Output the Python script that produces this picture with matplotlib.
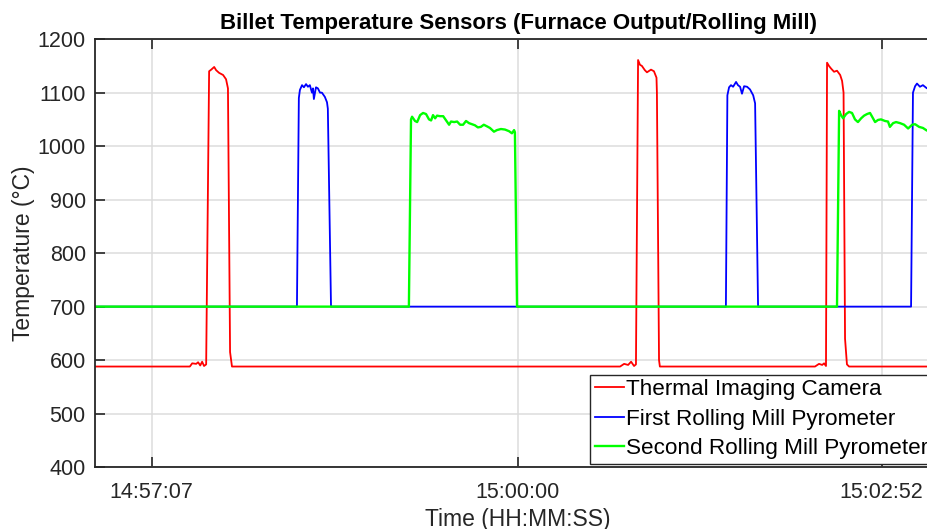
import matplotlib
matplotlib.use('Agg')
import matplotlib.pyplot as plt
from matplotlib.ticker import FuncFormatter

# time in seconds relative to 15:00:00, temperature in degC
red_t = [-199.5, -154.9, -153.8, -151.9, -151.0, -150.0, -149.1, -148.2, -147.2, -145.8, -144.8,
         -143.4, -142.5, -141.1, -139.2, -137.8, -136.9, -135.9, -135.0,
         48.4, 50.3, 52.2, 53.6, 55.0, 55.9, 56.9, 57.8, 58.7, 60.1, 61.1, 63.0, 64.4, 65.6,
         65.8, 66.8, 67.2,
         140.5, 142.4, 143.9, 144.8, 145.7, 146.2, 147.1, 148.1, 149.5, 150.9, 152.4, 153.3,
         154.0, 154.7, 155.6, 156.6, 200.0]
red_v = [588, 588, 594, 593, 596, 590, 597, 589, 592, 1140, 1143,
         1148, 1142, 1137, 1133, 1125, 1108, 615, 588,
         588, 593, 591, 597, 589, 592, 1161, 1152, 1150, 1142, 1138, 1143, 1140, 1128,
         1100, 600, 588,
         588, 593, 591, 594, 589, 1156, 1150, 1145, 1139, 1141, 1133, 1122,
         1100, 640, 592, 588, 588]

blue_t = [-199.5, -104.3, -103.4, -102.9, -101.9, -101.0, -100.0, -99.1, -98.2, -97.2, -96.7,
          -96.3, -95.3, -94.4, -93.4, -92.5, -91.1, -90.1, -89.7, -88.2,
          98.4, 99.1, 99.9, 100.8, 101.8, 103.2, 104.1, 105.1, 106.0, 107.0, 108.4, 109.8,
          111.3, 112.2, 113.6,
          185.9, 186.8, 187.8, 188.7, 190.1, 191.5, 193.4, 195.8, 200.0]
blue_v = [700, 700, 1090, 1105, 1114, 1110, 1116, 1111, 1114, 1100, 1108,
          1088, 1110, 1108, 1100, 1100, 1092, 1082, 1070, 700,
          700, 1095, 1110, 1114, 1111, 1120, 1114, 1111, 1098, 1112, 1111, 1106,
          1095, 1080, 700,
          700, 1100, 1112, 1117, 1111, 1114, 1108, 1110, 1112]

green_t = [-199.5, -51.4, -50.4, -49.9, -48.5, -47.5, -46.1, -44.7, -43.3, -41.9, -40.9, -40.0,
           -39.0, -38.1, -36.7, -35.2, -33.8, -32.4, -31.5, -30.0, -28.6, -27.2, -25.8, -24.4,
           -23.0, -21.6, -20.2, -18.8, -17.4, -16.0, -14.5, -13.1, -11.2, -9.8, -7.9, -6.0,
           -4.1, -2.7, -1.7, -1.3, -0.3,
           150.9, 151.9, 152.8, 153.8, 155.2, 156.6, 158.0, 159.4, 160.8, 162.3, 163.7, 165.1,
           166.5, 167.5, 168.9, 170.3, 171.7, 173.6, 175.0, 175.9, 177.4, 178.8, 180.7, 182.6,
           184.5, 186.4, 187.8, 189.7, 191.5, 193.4, 196.7, 200.0]
green_v = [700, 700, 1050, 1055, 1047, 1045, 1058, 1062, 1060, 1050, 1048, 1058,
           1052, 1057, 1056, 1056, 1048, 1040, 1046, 1045, 1046, 1040, 1040, 1047,
           1043, 1041, 1039, 1035, 1036, 1040, 1037, 1034, 1027, 1030, 1032, 1031,
           1028, 1024, 1030, 1026, 700,
           700, 1066, 1058, 1052, 1060, 1064, 1062, 1050, 1045, 1052, 1057, 1060,
           1062, 1055, 1045, 1049, 1050, 1047, 1046, 1036, 1043, 1045, 1043, 1040,
           1033, 1040, 1041, 1036, 1034, 1029, 1032, 1028]

labels = ['Thermal Imaging Camera', 'First Rolling Mill Pyrometer', 'Second Rolling Mill Pyrometer']
xticks = [-173, 0, 172]
yticks = [400, 500, 600, 700, 800, 900, 1000, 1100, 1200]


def hms(s, pos=None):
    total = int(round(15 * 3600 + s))
    return '%02d:%02d:%02d' % (total // 3600, (total % 3600) // 60, total % 60)


plt.rcParams['font.family'] = ['Liberation Sans', 'DejaVu Sans']
fig = plt.figure(figsize=(9.27, 5.29), dpi=100)
ax = fig.add_axes([0.103, 0.117, 0.912, 0.809])

ax.plot(red_t, red_v, color='#ff0000', lw=1.3, label=labels[0])
ax.plot(blue_t, blue_v, color='#0000ff', lw=1.3, label=labels[1])
ax.plot(green_t, green_v, color='#00ff00', lw=1.7, label=labels[2])

ax.set_xlim(-199.5, 200)
ax.set_ylim(400, 1200)
ax.set_xticks(xticks)
ax.set_yticks(yticks)
ax.xaxis.set_major_formatter(FuncFormatter(hms))
ax.tick_params(direction='in', length=7, width=1.2, labelsize=15.5, top=True, right=True,
               colors='#262626', labelcolor='#262626')
ax.tick_params(axis='x', pad=11)
ax.tick_params(axis='y', pad=7)
ax.grid(True, color='#dcdcdc', lw=1.1)
ax.set_axisbelow(True)
for sp in ax.spines.values():
    sp.set_linewidth(1.3)
    sp.set_color('#262626')

ax.set_title('Billet Temperature Sensors (Furnace Output/Rolling Mill)', fontsize=16,
             fontweight='bold', pad=7)
ax.set_xlabel('Time (HH:MM:SS)', fontsize=16.5, color='#262626', labelpad=3)
ax.set_ylabel('Temperature (\u00b0C)', fontsize=16.5, color='#262626', labelpad=1.5)

leg = ax.legend(loc='lower left', bbox_to_anchor=(0.585, 0.008), fontsize=16.2, frameon=True,
                fancybox=False, framealpha=1, edgecolor='#262626', borderpad=0.2,
                labelspacing=0.38, handlelength=1.3, handletextpad=0.1, borderaxespad=0)
leg.get_frame().set_linewidth(1.0)

fig.savefig('out.png', dpi=100)
